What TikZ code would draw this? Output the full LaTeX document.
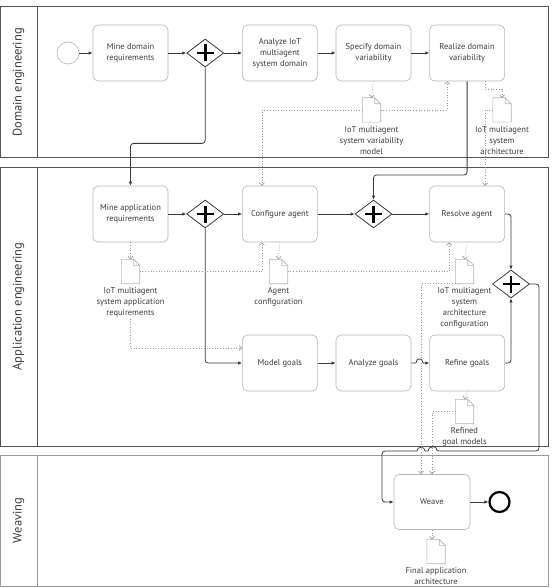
\documentclass[tikz,border=0pt]{standalone}
\usepackage{fontspec}
\setmainfont{PT Sans}
\usetikzlibrary{arrows.meta,positioning,shapes.geometric}
\definecolor{laneline}{HTML}{555555}
\definecolor{laneweave}{HTML}{9A9A9A}
\definecolor{boxline}{HTML}{B4B4B4}
\definecolor{txtgray}{HTML}{3C3C3C}
\definecolor{flowline}{HTML}{3A3A3A}
\definecolor{assocline}{HTML}{9A9A9A}
\newcommand{\boxfont}{\fontsize{8.5}{11}\selectfont}
% data object: name, position
\newcommand{\datadoc}[2]{%
  \node[docbox] (#1) at (#2) {};
  \draw[boxline, line width=0.6pt] (#1.north west) -- ([xshift=-6pt]#1.north east)
    -- ([yshift=-6pt]#1.north east) -- (#1.south east) -- (#1.south west) -- cycle
    ([xshift=-6pt]#1.north east) |- ([yshift=-6pt]#1.north east);}

\begin{document}
\begin{tikzpicture}[x=1pt, y=-1pt, node distance=18pt,
  every node/.style={font=\boxfont, text=txtgray},
  task/.style={draw=boxline, line width=0.6pt, rounded corners=5pt, align=center,
    minimum width=75pt, minimum height=56pt, inner sep=2pt},
  gate/.style={diamond, draw=flowline, line width=0.8pt, fill=white, minimum width=37pt,
    minimum height=28pt, inner sep=0pt,
    path picture={\draw[black, line width=2.8pt]
      ([xshift=-8.5pt]path picture bounding box.center) -- ([xshift=8.5pt]path picture bounding box.center)
      ([yshift=-8.5pt]path picture bounding box.center) -- ([yshift=8.5pt]path picture bounding box.center);}},
  docbox/.style={minimum width=18pt, minimum height=24pt, inner sep=0pt},
  doctext/.style={align=center, inner sep=1pt},
  lanelabel/.style={rotate=90, font=\fontsize{12.5}{14}\selectfont, text=txtgray},
  flow/.style={draw=flowline, line width=0.8pt, rounded corners=3pt, -{Latex[length=4pt,width=3.5pt]}},
  assoc/.style={draw=assocline, line width=0.7pt, dotted, -{Straight Barb[length=2.5pt,width=5pt]}}]
\useasboundingbox (0,0) rectangle (553,588);

% lanes
\draw[laneline, line width=1pt] (0.5,7) rectangle (548,158) (37,7) -- (37,158);
\draw[laneline, line width=1pt] (0.5,167) rectangle (548,446) (37,167) -- (37,446);
\draw[laneweave, line width=1pt] (0.5,455) rectangle (548,586) (37,455) -- (37,586);
\node[lanelabel] (domlbl) at (18.5,82.5) {Domain engineering};
\node[lanelabel] (applbl) at (18.5,306.5) {Application engineering};
\node[lanelabel] (weavelbl) at (18.5,520.5) {Weaving};

% domain engineering
\node[circle, draw=boxline, line width=0.6pt, minimum size=22pt, inner sep=0pt] (start) at (68,53) {};
\node[task] (minedom) at (130.5,53) {Mine domain\\requirements};
\node[gate, right=of minedom] (g1) {};
\node[task, right=of g1] (analyze) {Analyze IoT\\multiagent\\system domain};
\node[task, right=of analyze] (specify) {Specify domain\\variability};
\node[task, right=of specify] (realize) {Realize domain\\variability};
\datadoc{vmdoc}{371.5,110}
\node[doctext, below=3pt of vmdoc] (vmtxt) {IoT multiagent\\system variability\\model};
\datadoc{archdoc}{502,110}
\node[doctext, below=3pt of archdoc] (archtxt) {IoT multiagent\\system\\architecture};

% application engineering
\node[task] (mineapp) at (130.5,214) {Mine application\\requirements};
\node[gate, right=of mineapp] (g2) {};
\node[task, right=of g2] (configure) {Configure agent};
\node[gate] (g3) at (specify |- configure) {};
\node[task] (resolve) at (realize |- configure) {Resolve agent};
\node[gate] (g4) at (511,284) {};
\node[task] (model) at (configure |- 0,363) {Model goals};
\node[task, right=of model] (analyzeg) {Analyze goals};
\node[task, right=of analyzeg] (refine) {Refine goals};
\datadoc{reqdoc}{130.5,271.5}
\node[doctext, below=3pt of reqdoc] (reqtxt) {IoT multiagent\\system application\\requirements};
\datadoc{agentdoc}{278.5,271.5}
\node[doctext, below=3pt of agentdoc] (agenttxt) {Agent\\configuration};
\datadoc{archcfgdoc}{464.5,271.5}
\node[doctext, below=3pt of archcfgdoc] (archcfgtxt) {IoT multiagent\\system\\architecture\\configuration};
\datadoc{rgdoc}{464.5,411.5}
\node[doctext, below=3pt of rgdoc] (rgtxt) {Refined\\goal models};

% weaving
\node[task, minimum width=76pt, minimum height=55pt] (weave) at (432,502) {Weave};
\node[circle, draw=black, line width=2.2pt, minimum size=20pt, inner sep=0pt] (finish) at (499.5,502) {};
\datadoc{fadoc}{436,551.5}
\node[doctext, below=3pt of fadoc] (fatxt) {Final application\\architecture};

% sequence flows
\draw[flow] (start) -- (minedom);
\draw[flow] (minedom) -- (g1);
\draw[flow] (g1) -- (analyze);
\draw[flow] (analyze) -- (specify);
\draw[flow] (specify) -- (realize);
\draw[flow] (g1.south) -- ++(0,76) -| (mineapp.north);
\draw[flow] (realize.south) -- (realize.south |- 0,175) -| (g3.north);
\draw[flow] (mineapp) -- (g2);
\draw[flow] (g2) -- (configure);
\draw[flow] (configure) -- (g3);
\draw[flow] (g3) -- (resolve);
\draw[flow] (g2.south) |- (model.west);
\draw[flow] (resolve.east) -| (g4.north);
\draw[flow] (model) -- (analyzeg);
\draw[flow, sharp corners] (analyzeg.east) -- (416,363) .. controls (416,357.5) and (423,357.5) .. (423,363) -- (refine.west);
\draw[flow] (refine.east) -| (g4.south);
\draw[flow] (g4.east) -- (539,284) -- (539,451) -- (436,451) [sharp corners]
  .. controls (436,446) and (428,446) .. (428,451) -- (425,451)
  .. controls (425,446) and (417,446) .. (417,451) [rounded corners=3pt]
  -- (382,451) -- (382,502) -- (weave.west);
\draw[flow] (weave) -- (finish);

% data associations
\draw[assoc] (specify.south) -- (vmdoc.north);
\draw[assoc] (vmdoc.east) -| ([xshift=-20pt]realize.south);
\draw[assoc] (vmdoc.west) -| ([xshift=-18pt]configure.north);
\draw[assoc] ([xshift=18pt]realize.south) -- ++(0,8) -| (archdoc.north);
\draw[assoc] (archdoc.west) -| ([xshift=18pt]resolve.north);
\draw[assoc] (mineapp.south) -- (reqdoc.north);
\draw[assoc] (reqdoc.east) -| ([xshift=-18pt]configure.south);
\draw[assoc] (reqtxt.south) |- ([yshift=15pt]model.west);
\draw[assoc] (configure.south) -- (agentdoc.north);
\draw[assoc] (agentdoc.east) -| ([xshift=-18pt]resolve.south);
\draw[assoc] (resolve.south) -- (archcfgdoc.north);
\draw[assoc] (archcfgdoc.south west) -| ([xshift=-11pt]weave.north);
\draw[assoc] (refine.south) -- (rgdoc.north);
\draw[assoc] (rgdoc.west) -| (weave.north);
\draw[assoc] (weave.south) -- (weave.south |- fadoc.north);
\end{tikzpicture}
\end{document}
